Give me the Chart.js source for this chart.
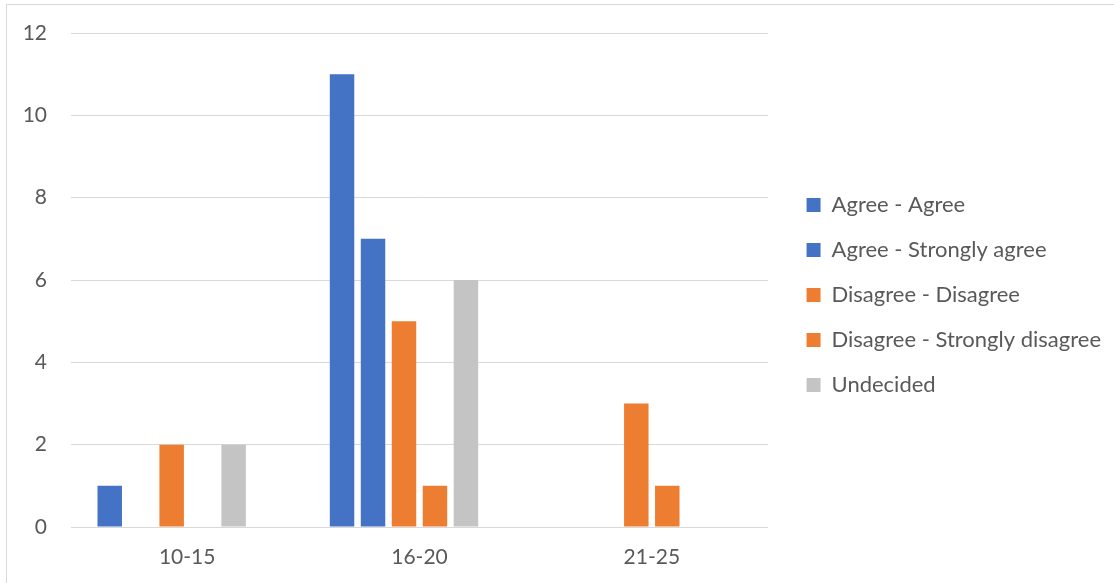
<!DOCTYPE html>
<html>
<head>
<meta charset="utf-8">
<script src="https://cdn.jsdelivr.net/npm/chart.js@4"></script>
<style>
  html, body { margin: 0; padding: 0; background: #fff; overflow: hidden; }
  #wrap { position: relative; width: 1114px; height: 583px; overflow: hidden; }
  #frame { position: absolute; left: 6px; top: 4px; width: 1200px; height: 700px; border: 1px solid #d9d9d9; box-sizing: border-box; pointer-events: none; }
  canvas { position: absolute; left: 0; top: 0; }
</style>
</head>
<body>
<div id="wrap">
  <canvas id="c" width="1114" height="583"></canvas>
  <div id="frame"></div>
</div>
<script>
const categories = ["10-15", "16-20", "21-25"];
const agreeAgree = [1, 11, 0];
const agreeStrongly = [0, 7, 0];
const disagreeDisagree = [2, 5, 3];
const disagreeStrongly = [0, 1, 1];
const undecided = [2, 6, 0];
const spacer = [null, null, null];
const yTicks = [0, 2, 4, 6, 8, 10, 12];

const BLUE = "#4472C4", ORANGE = "#ED7D31", GRAY = "#C4C4C4";
const FONT = "Lato, 'Open Sans', sans-serif";

const mk = (label, data, color) => ({
  label, data, backgroundColor: color, borderWidth: 0,
  categoryPercentage: 0.8, barPercentage: 0.79
});

new Chart(document.getElementById("c"), {
  type: "bar",
  data: {
    labels: categories,
    datasets: [
      mk("Agree - Agree", agreeAgree, BLUE),
      mk("Agree - Strongly agree", agreeStrongly, BLUE),
      mk("Disagree - Disagree", disagreeDisagree, ORANGE),
      mk("Disagree - Strongly disagree", disagreeStrongly, ORANGE),
      mk("Undecided", undecided, GRAY),
      mk("", spacer, "rgba(0,0,0,0)")
    ]
  },
  options: {
    responsive: false,
    animation: false,
    layout: { padding: { top: 33, left: 0, right: 3, bottom: 11 } },
    plugins: {
      tooltip: { enabled: false },
      legend: {
        position: "right",
        align: "start",
        maxWidth: 340,
        title: { display: true, text: "", font: { size: 10, lineHeight: 1 }, padding: { top: 128, bottom: 0 } },
        labels: {
          filter: (item) => item.text !== "",
          boxWidth: 14, boxHeight: 14,
          padding: 23,
          color: "#595959",
          font: { family: FONT, size: 22 }
        }
      }
    },
    scales: {
      x: {
        grid: { display: false, drawTicks: false },
        border: { display: false },
        ticks: { color: "#595959", font: { family: FONT, size: 21 }, padding: 18 },
        afterFit: (s) => { s.height = 45; }
      },
      y: {
        min: 0, max: 12,
        afterBuildTicks: (s) => { s.ticks = yTicks.map(v => ({ value: v })); },
        grid: { color: "#d9d9d9", lineWidth: 1, drawTicks: false },
        border: { display: false },
        ticks: { color: "#595959", font: { family: FONT, size: 21 }, padding: 24 },
        afterFit: (s) => { s.width = 71; s.paddingTop = 0; s.paddingBottom = 0; }
      },
      gap: {
        position: "right",
        display: true,
        grid: { display: false, drawTicks: false },
        border: { display: false },
        ticks: { display: false },
        afterFit: (s) => { s.width = 15.6; s.paddingTop = 0; s.paddingBottom = 0; }
      }
    }
  }
});
</script>
</body>
</html>
